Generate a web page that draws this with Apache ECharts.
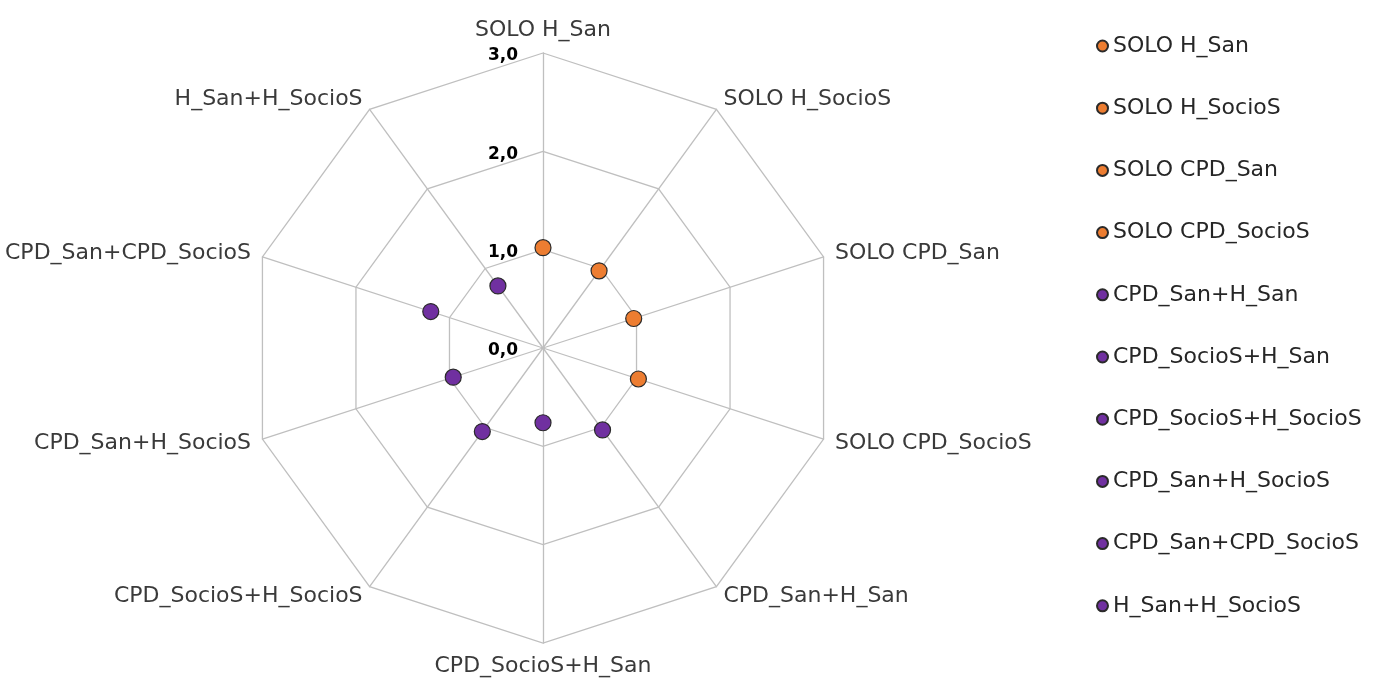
<!DOCTYPE html>
<html>
<head>
<meta charset="utf-8">
<script src="https://cdn.jsdelivr.net/npm/echarts@6/dist/echarts.min.js"></script>
<style>
html,body{margin:0;padding:0;background:#fff;}
#chart{width:1376px;height:681px;}
</style>
</head>
<body>
<div id="chart"></div>
<script>
const categories = ['SOLO H_San','SOLO H_SocioS','SOLO CPD_San','SOLO CPD_SocioS','CPD_San+H_San','CPD_SocioS+H_San','CPD_SocioS+H_SocioS','CPD_San+H_SocioS','CPD_San+CPD_SocioS','H_San+H_SocioS'];
const values = [1.02, 0.97, 0.97, 1.02, 1.03, 0.76, 1.05, 0.96, 1.20, 0.78];
const groupColors = ['#ED7D31','#ED7D31','#ED7D31','#ED7D31','#7030A0','#7030A0','#7030A0','#7030A0','#7030A0','#7030A0'];
const axisMax = 3;
const axisInterval = 1;

const FONT = 'DejaVu Sans';
const CX = 543, CY = 348, R = 295;

// radar draws indicators counter-clockwise; reorder so they run clockwise like the reference
const radarOrder = [0].concat(categories.map((c, i) => i).slice(1).reverse());
const indicator = radarOrder.map((k, j) => {
  const ind = { name: categories[k], min: 0, max: axisMax };
  if (j === 0) {
    ind.axisLabel = {
      show: true, margin: 25,
      formatter: v => '{a|' + v.toFixed(1).replace('.', ',') + '}',
      rich: { a: { fontFamily: FONT, fontWeight: 'bold', fontSize: 17, color: '#000', padding: [6, 0, 0, 0] } }
    };
  }
  return ind;
});

const series = categories.map((c, i) => ({
  type: 'scatter',
  coordinateSystem: 'polar',
  name: c,
  symbol: 'circle',
  symbolSize: 16,
  itemStyle: { color: groupColors[i], borderColor: '#2a2a2a', borderWidth: 1.2, opacity: 1 },
  data: [[values[i], c]]
}));

const chart = echarts.init(document.getElementById('chart'), null, { renderer: 'canvas' });
chart.setOption({
  animation: false,
  backgroundColor: '#fff',
  legend: {
    orient: 'vertical',
    left: 1091,
    top: 28,
    itemGap: 36.2,
    itemWidth: 11,
    itemHeight: 11,
    icon: 'circle',
    textStyle: { fontFamily: FONT, fontSize: 22, color: '#262626', lineHeight: 26 },
    data: categories
  },
  radar: {
    center: [CX, CY],
    radius: R,
    startAngle: 90,
    splitNumber: axisMax / axisInterval,
    shape: 'polygon',
    indicator: indicator,
    axisName: { fontFamily: FONT, fontSize: 22, color: '#3a3a3a' },
    nameGap: 12,
    axisLine: { lineStyle: { color: '#BFBFBF', width: 1.3 } },
    splitLine: { lineStyle: { color: '#BFBFBF', width: 1.3 } },
    splitArea: { show: false },
    axisLabel: { show: false },
    axisTick: { show: false },
    z: 1
  },
  polar: { center: [CX, CY], radius: R },
  angleAxis: {
    type: 'category', data: categories, startAngle: 90, clockwise: true, boundaryGap: false,
    axisLine: { show: false }, axisTick: { show: false }, axisLabel: { show: false }, splitLine: { show: false }
  },
  radiusAxis: {
    type: 'value', min: 0, max: axisMax,
    axisLine: { show: false }, axisTick: { show: false }, axisLabel: { show: false }, splitLine: { show: false }
  },
  series: series
});
</script>
</body>
</html>
